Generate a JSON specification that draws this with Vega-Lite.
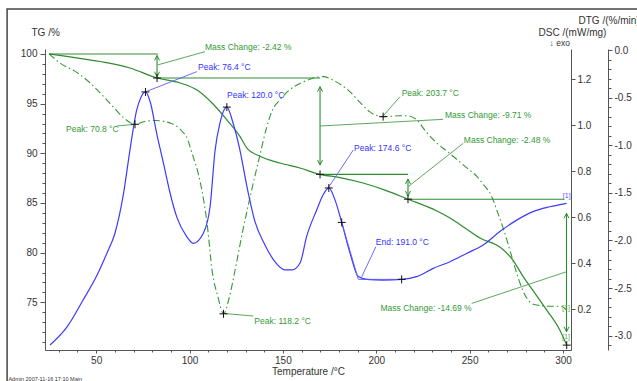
{
 "$schema": "https://vega.github.io/schema/vega-lite/v6.json",
 "width": 526, "height": 301,
 "autosize": {"type": "none"},
 "padding": {"left": 45, "top": 49, "right": 66, "bottom": 31},
 "background": "white",
 "config": {
  "view": {"stroke": null},
  "font": "Liberation Sans",
  "axis": {"domainColor": "#555", "tickColor": "#555", "labelColor": "#333", "titleColor": "#333", "labelFont": "Liberation Sans", "titleFont": "Liberation Sans", "titleFontWeight": "normal", "labelFontSize": 10, "titleFontSize": 10, "grid": false}
 },
 "datasets": {
  "frame": [{"t": 2.3, "t2": 400, "v": 104.53, "v2": 60}],
  "tg": [
   {"t": 24.8, "v": 100.0}, {"t": 36.0, "v": 99.70}, {"t": 52.1, "v": 99.24}, {"t": 68.1, "v": 98.59}, {"t": 82.6, "v": 97.58},
   {"t": 94.9, "v": 97.08}, {"t": 104.0, "v": 96.37}, {"t": 112.6, "v": 94.96}, {"t": 120.1, "v": 93.35}, {"t": 127.0, "v": 91.7},
   {"t": 130.8, "v": 90.5}, {"t": 137.7, "v": 89.7}, {"t": 148.4, "v": 89.02}, {"t": 159.1, "v": 88.52}, {"t": 169.9, "v": 87.88},
   {"t": 180.6, "v": 87.56}, {"t": 192.9, "v": 87.01}, {"t": 204.7, "v": 86.30}, {"t": 217.0, "v": 85.38}, {"t": 232.5, "v": 84.19},
   {"t": 239.5, "v": 83.48}, {"t": 247.5, "v": 82.48}, {"t": 255.5, "v": 81.47}, {"t": 266.2, "v": 80.56}, {"t": 273.2, "v": 79.25},
   {"t": 278.5, "v": 77.64}, {"t": 283.8, "v": 76.23}, {"t": 291.3, "v": 74.22}, {"t": 298.3, "v": 72.21}, {"t": 302.0, "v": 70.69}
  ],
  "dtg": [
   {"t": 24.8, "v": -0.04}, {"t": 30.9, "v": -0.14}, {"t": 40.0, "v": -0.24}, {"t": 47.0, "v": -0.35}, {"t": 54.0, "v": -0.49},
   {"t": 59.3, "v": -0.60}, {"t": 64.6, "v": -0.71}, {"t": 70.8, "v": -0.78}, {"t": 76.0, "v": -0.75}, {"t": 81.9, "v": -0.74},
   {"t": 90.0, "v": -0.77}, {"t": 95.4, "v": -0.84}, {"t": 99.2, "v": -0.95}, {"t": 100.8, "v": -1.05}, {"t": 106.4, "v": -1.45},
   {"t": 109.4, "v": -1.82}, {"t": 112.2, "v": -2.33}, {"t": 115.2, "v": -2.59}, {"t": 118.2, "v": -2.77}, {"t": 121.4, "v": -2.59},
   {"t": 124.4, "v": -2.31}, {"t": 128.6, "v": -1.89}, {"t": 133.3, "v": -1.47}, {"t": 137.5, "v": -1.12}, {"t": 141.2, "v": -0.82},
   {"t": 144.4, "v": -0.63}, {"t": 148.1, "v": -0.53}, {"t": 153.5, "v": -0.42}, {"t": 160.4, "v": -0.34}, {"t": 171.4, "v": -0.28},
   {"t": 179.0, "v": -0.34}, {"t": 186.0, "v": -0.44}, {"t": 191.3, "v": -0.55}, {"t": 196.6, "v": -0.65}, {"t": 203.7, "v": -0.70},
   {"t": 213.0, "v": -0.69}, {"t": 216.4, "v": -0.69}, {"t": 221.8, "v": -0.735}, {"t": 226.7, "v": -0.86}, {"t": 232.0, "v": -0.97},
   {"t": 239.0, "v": -1.08}, {"t": 248.0, "v": -1.23}, {"t": 254.0, "v": -1.33}, {"t": 257.7, "v": -1.42}, {"t": 261.4, "v": -1.52},
   {"t": 265.1, "v": -1.71}, {"t": 268.3, "v": -1.89}, {"t": 272.0, "v": -2.13}, {"t": 275.8, "v": -2.38}, {"t": 278.4, "v": -2.52},
   {"t": 281.1, "v": -2.62}, {"t": 284.3, "v": -2.67}, {"t": 291.8, "v": -2.69}, {"t": 298.7, "v": -2.69}, {"t": 302.0, "v": -2.73}
  ],
  "dsc": [
   {"t": 25.3, "v": 0.043}, {"t": 34.4, "v": 0.122}, {"t": 43.0, "v": 0.239}, {"t": 50.5, "v": 0.348}, {"t": 55.8, "v": 0.444},
   {"t": 60.1, "v": 0.531}, {"t": 64.6, "v": 0.70}, {"t": 68.1, "v": 0.892}, {"t": 71.7, "v": 1.066}, {"t": 73.9, "v": 1.12},
   {"t": 76.4, "v": 1.145}, {"t": 79.0, "v": 1.10}, {"t": 82.4, "v": 0.965}, {"t": 86.0, "v": 0.836}, {"t": 89.6, "v": 0.704},
   {"t": 93.1, "v": 0.602}, {"t": 98.5, "v": 0.515}, {"t": 102.0, "v": 0.486}, {"t": 107.4, "v": 0.530}, {"t": 111.0, "v": 0.645},
   {"t": 113.7, "v": 0.892}, {"t": 116.3, "v": 1.010}, {"t": 120.0, "v": 1.079}, {"t": 123.3, "v": 1.010}, {"t": 127.0, "v": 0.892},
   {"t": 130.8, "v": 0.731}, {"t": 135.1, "v": 0.579}, {"t": 140.4, "v": 0.479}, {"t": 145.8, "v": 0.405}, {"t": 151.1, "v": 0.370},
   {"t": 154.9, "v": 0.370}, {"t": 159.2, "v": 0.400}, {"t": 162.7, "v": 0.515}, {"t": 168.1, "v": 0.631}, {"t": 171.5, "v": 0.696},
   {"t": 174.6, "v": 0.727}, {"t": 177.9, "v": 0.675}, {"t": 181.5, "v": 0.577}, {"t": 186.0, "v": 0.442}, {"t": 190.4, "v": 0.341},
   {"t": 194.9, "v": 0.329}, {"t": 203.7, "v": 0.326}, {"t": 213.6, "v": 0.329}, {"t": 221.6, "v": 0.341}, {"t": 230.5, "v": 0.377},
   {"t": 239.5, "v": 0.406}, {"t": 248.4, "v": 0.442}, {"t": 257.3, "v": 0.479}, {"t": 266.2, "v": 0.537}, {"t": 275.2, "v": 0.587},
   {"t": 284.0, "v": 0.624}, {"t": 293.0, "v": 0.645}, {"t": 301.9, "v": 0.660}
  ],
  "tgSeg": [
   {"t": 24.8, "t2": 83.0, "v": 100.0, "v2": 100.0},
   {"t": 82.6, "t2": 169.9, "v": 97.58, "v2": 97.58},
   {"t": 169.9, "t2": 217.0, "v": 87.88, "v2": 87.88},
   {"t": 217.0, "t2": 300.5, "v": 85.38, "v2": 85.38},
   {"t": 82.6, "t2": 82.6, "v": 99.85, "v2": 97.71},
   {"t": 169.9, "t2": 169.9, "v": 96.71, "v2": 88.82},
   {"t": 217.0, "t2": 217.0, "v": 87.41, "v2": 85.70},
   {"t": 301.9, "t2": 301.9, "v": 83.96, "v2": 72.03}
  ],
  "greenLead": [
   {"t": 82.8, "t2": 108.3, "v": 98.89, "v2": 100.23},
   {"t": 169.9, "t2": 235.9, "v": 92.75, "v2": 93.42},
   {"t": 217.1, "t2": 246.6, "v": 86.64, "v2": 91.01},
   {"t": 301.9, "t2": 251.1, "v": 78.08, "v2": 74.89},
   {"t": 61.0, "t2": 70.4, "v": 92.75, "v2": 92.9},
   {"t": 117.8, "t2": 134.2, "v": 73.89, "v2": 73.62},
   {"t": 203.4, "t2": 212.7, "v": 93.69, "v2": 95.70}
  ],
  "blueLead": [
   {"t": 76.2, "t2": 103.9, "v": 96.17, "v2": 98.22},
   {"t": 174.3, "t2": 187.7, "v": 86.54, "v2": 90.33},
   {"t": 181.5, "t2": 190.4, "v": 83.05, "v2": 77.31},
   {"t": 190.4, "t2": 213.6, "v": 77.31, "v2": 77.31},
   {"t": 192.2, "t2": 199.8, "v": 77.57, "v2": 80.59}
  ],
  "arrUp": [{"t": 82.6, "v": 99.85}, {"t": 169.9, "v": 96.71}, {"t": 217.0, "v": 87.41}, {"t": 301.9, "v": 83.96}],
  "arrDown": [{"t": 82.6, "v": 97.71}, {"t": 169.9, "v": 88.82}, {"t": 217.0, "v": 85.70}, {"t": 301.9, "v": 72.03}],
  "tgCross": [{"t": 82.6, "v": 97.58}, {"t": 169.9, "v": 87.88}, {"t": 217.0, "v": 85.38}, {"t": 302.0, "v": 70.69}],
  "dtgCross": [{"t": 70.8, "v": -0.78}, {"t": 118.2, "v": -2.77}, {"t": 203.7, "v": -0.70}],
  "dscCross": [{"t": 76.4, "v": 1.145}, {"t": 120.0, "v": 1.079}, {"t": 174.6, "v": 0.727}, {"t": 181.5, "v": 0.577}, {"t": 213.6, "v": 0.329}],
  "greenText": [
   {"t": 108.3, "v": 100.74, "label": "Mass Change: -2.42 %"},
   {"t": 236.8, "v": 93.86, "label": "Mass Change: -9.71 %"},
   {"t": 246.9, "v": 91.34, "label": "Mass Change: -2.48 %"},
   {"t": 213.6, "v": 96.04, "label": "Peak: 203.7 °C"},
   {"t": 134.7, "v": 73.14, "label": "Peak: 118.2 °C"},
   {"t": 33.9, "v": 92.42, "label": "Peak: 70.8 °C"}
  ],
  "greenRight": [{"t": 251.1, "v": 74.39, "label": "Mass Change: -14.69 %"}],
  "blueText": [
   {"t": 104.6, "v": 98.72, "label": "Peak: 76.4 °C"},
   {"t": 120.1, "v": 95.87, "label": "Peak: 120.0 °C"},
   {"t": 188.1, "v": 90.53, "label": "Peak: 174.6 °C"},
   {"t": 199.8, "v": 81.10, "label": "End: 191.0 °C"}
  ],
  "blueTag": [{"t": 302.0, "v": 85.70, "label": "[1]"}],
  "greenTag": [{"t": 301.6, "v": 74.47, "label": "[1]"}, {"t": 301.6, "v": 71.50, "label": "[1]"}],
  "exo": [{"t": 303.7, "v": 101.14, "label": "↓ exo"}],
  "footer": [{"t": 3.0, "v": 67.32, "label": "Admin   2007-11-16 17:10    Main"}]
 },
 "resolve": {"scale": {"y": "independent"}, "axis": {"x": "independent", "y": "independent"}},
 "layer": [
  {
   "data": {"name": "frame"},
   "mark": {"type": "rect", "filled": false, "color": "#444", "strokeWidth": 1.5},
   "encoding": {
    "x": {"field": "t", "type": "quantitative", "scale": {"domain": [22.6, 304.3], "nice": false, "zero": false}, "axis": null},
    "x2": {"field": "t2"},
    "y": {"field": "v", "type": "quantitative", "scale": {"domain": [70.2, 100.5], "nice": false, "zero": false}, "axis": null},
    "y2": {"field": "v2"}
   }
  },
  {
   "data": {"name": "tg"},
   "mark": {"type": "point", "opacity": 0},
   "encoding": {
    "x": {"field": "t", "type": "quantitative", "scale": {"domain": [22.6, 304.3], "nice": false, "zero": false},
          "axis": {"orient": "bottom", "values": [30, 40, 60, 70, 80, 90, 110, 120, 130, 140, 160, 170, 180, 190, 210, 220, 230, 240, 260, 270, 280, 290], "labels": false, "domain": false, "tickSize": 2, "title": null}},
    "y": {"field": "v", "type": "quantitative", "scale": {"domain": [70.2, 100.5], "nice": false, "zero": false},
          "axis": {"orient": "left", "values": [71, 72, 73, 74, 76, 77, 78, 79, 81, 82, 83, 84, 86, 87, 88, 89, 91, 92, 93, 94, 96, 97, 98, 99], "labels": false, "domain": false, "tickSize": 3, "title": null}}
   }
  },
  {
   "data": {"name": "dtg"},
   "mark": {"type": "point", "opacity": 0},
   "encoding": {
    "x": {"field": "t", "type": "quantitative", "scale": {"domain": [22.6, 304.3], "nice": false, "zero": false}, "axis": null},
    "y": {"field": "v", "type": "quantitative", "scale": {"domain": [-3.15, 0.0105], "nice": false, "zero": false},
          "axis": {"orient": "right", "offset": 37, "values": [-0.1, -0.2, -0.3, -0.4, -0.6, -0.7, -0.8, -0.9, -1.1, -1.2, -1.3, -1.4, -1.6, -1.7, -1.8, -1.9, -2.1, -2.2, -2.3, -2.4, -2.6, -2.7, -2.8, -2.9, -3.1], "labels": false, "domain": false, "tickSize": 3, "title": null}}
   }
  },
  {
   "data": {"name": "dtg"},
   "mark": {"type": "line", "color": "#339933", "strokeWidth": 1.1, "strokeDash": [7, 3, 1.5, 3], "interpolate": "monotone"},
   "encoding": {
    "x": {"field": "t", "type": "quantitative", "scale": {"domain": [22.6, 304.3], "nice": false, "zero": false}, "axis": null},
    "y": {"field": "v", "type": "quantitative", "scale": {"domain": [-3.15, 0.0105], "nice": false, "zero": false},
          "axis": {"orient": "right", "offset": 37, "values": [0, -0.5, -1, -1.5, -2, -2.5, -3], "labelExpr": "datum.value < 0 ? '-' + format(-datum.value, '.1f') : format(datum.value, '.1f')", "tickSize": 4, "labelPadding": 2, "title": "DTG /(%/min)", "titleAngle": 0, "titleAlign": "left", "titleBaseline": "middle", "titleX": -30, "titleY": -29}}
   }
  },
  {
   "data": {"name": "tg"},
   "mark": {"type": "line", "color": "#2e8b2e", "strokeWidth": 1.2, "interpolate": "monotone"},
   "encoding": {
    "x": {"field": "t", "type": "quantitative", "scale": {"domain": [22.6, 304.3], "nice": false, "zero": false},
          "axis": {"orient": "bottom", "values": [50, 100, 150, 200, 250, 300], "tickSize": 3, "labelPadding": 2, "title": "Temperature /°C", "titlePadding": 1}},
    "y": {"field": "v", "type": "quantitative", "scale": {"domain": [70.2, 100.5], "nice": false, "zero": false},
          "axis": {"orient": "left", "values": [75, 80, 85, 90, 95, 100], "tickSize": 5, "labelPadding": 3, "title": "TG /%", "titleAngle": 0, "titleAlign": "left", "titleBaseline": "middle", "titleX": -14, "titleY": -17}}
   }
  },
  {
   "data": {"name": "dsc"},
   "mark": {"type": "line", "color": "#3b3bff", "strokeWidth": 1.2, "interpolate": "monotone"},
   "encoding": {
    "x": {"field": "t", "type": "quantitative", "scale": {"domain": [22.6, 304.3], "nice": false, "zero": false}, "axis": null},
    "y": {"field": "v", "type": "quantitative", "scale": {"domain": [0.0215, 1.332], "nice": false, "zero": false},
          "axis": {"orient": "right", "values": [0.2, 0.4, 0.6, 0.8, 1.0, 1.2], "format": ".1f", "tickSize": 4, "labelPadding": 2, "title": "DSC /(mW/mg)", "titleAngle": 0, "titleAlign": "center", "titleBaseline": "middle", "titleX": 1, "titleY": -17}}
   }
  },
  {
   "data": {"name": "tgSeg"},
   "mark": {"type": "rule", "color": "#2e8b2e", "strokeWidth": 1.1},
   "encoding": {
    "x": {"field": "t", "type": "quantitative", "scale": {"domain": [22.6, 304.3], "nice": false, "zero": false}, "axis": null},
    "x2": {"field": "t2"},
    "y": {"field": "v", "type": "quantitative", "scale": {"domain": [70.2, 100.5], "nice": false, "zero": false}, "axis": null},
    "y2": {"field": "v2"}
   }
  },
  {
   "data": {"name": "greenLead"},
   "mark": {"type": "rule", "color": "#4a9e4a", "strokeWidth": 0.9},
   "encoding": {
    "x": {"field": "t", "type": "quantitative", "scale": {"domain": [22.6, 304.3], "nice": false, "zero": false}, "axis": null},
    "x2": {"field": "t2"},
    "y": {"field": "v", "type": "quantitative", "scale": {"domain": [70.2, 100.5], "nice": false, "zero": false}, "axis": null},
    "y2": {"field": "v2"}
   }
  },
  {
   "data": {"name": "blueLead"},
   "mark": {"type": "rule", "color": "#5a5aff", "strokeWidth": 0.9},
   "encoding": {
    "x": {"field": "t", "type": "quantitative", "scale": {"domain": [22.6, 304.3], "nice": false, "zero": false}, "axis": null},
    "x2": {"field": "t2"},
    "y": {"field": "v", "type": "quantitative", "scale": {"domain": [70.2, 100.5], "nice": false, "zero": false}, "axis": null},
    "y2": {"field": "v2"}
   }
  },
  {
   "data": {"name": "arrUp"},
   "mark": {"type": "point", "shape": "M-0.5,1L0,0L0.5,1", "size": 100, "filled": false, "color": "#2e8b2e", "strokeWidth": 1, "opacity": 1},
   "encoding": {
    "x": {"field": "t", "type": "quantitative", "scale": {"domain": [22.6, 304.3], "nice": false, "zero": false}, "axis": null},
    "y": {"field": "v", "type": "quantitative", "scale": {"domain": [70.2, 100.5], "nice": false, "zero": false}, "axis": null}
   }
  },
  {
   "data": {"name": "arrDown"},
   "mark": {"type": "point", "shape": "M-0.5,-1L0,0L0.5,-1", "size": 100, "filled": false, "color": "#2e8b2e", "strokeWidth": 1, "opacity": 1},
   "encoding": {
    "x": {"field": "t", "type": "quantitative", "scale": {"domain": [22.6, 304.3], "nice": false, "zero": false}, "axis": null},
    "y": {"field": "v", "type": "quantitative", "scale": {"domain": [70.2, 100.5], "nice": false, "zero": false}, "axis": null}
   }
  },
  {
   "data": {"name": "tgCross"},
   "mark": {"type": "point", "shape": "M-1,0L1,0M0,-1L0,1", "size": 64, "filled": false, "color": "#111", "strokeWidth": 1, "opacity": 1},
   "encoding": {
    "x": {"field": "t", "type": "quantitative", "scale": {"domain": [22.6, 304.3], "nice": false, "zero": false}, "axis": null},
    "y": {"field": "v", "type": "quantitative", "scale": {"domain": [70.2, 100.5], "nice": false, "zero": false}, "axis": null}
   }
  },
  {
   "data": {"name": "dtgCross"},
   "mark": {"type": "point", "shape": "M-1,0L1,0M0,-1L0,1", "size": 64, "filled": false, "color": "#111", "strokeWidth": 1, "opacity": 1},
   "encoding": {
    "x": {"field": "t", "type": "quantitative", "scale": {"domain": [22.6, 304.3], "nice": false, "zero": false}, "axis": null},
    "y": {"field": "v", "type": "quantitative", "scale": {"domain": [-3.15, 0.0105], "nice": false, "zero": false}, "axis": null}
   }
  },
  {
   "data": {"name": "dscCross"},
   "mark": {"type": "point", "shape": "M-1,0L1,0M0,-1L0,1", "size": 64, "filled": false, "color": "#111", "strokeWidth": 1, "opacity": 1},
   "encoding": {
    "x": {"field": "t", "type": "quantitative", "scale": {"domain": [22.6, 304.3], "nice": false, "zero": false}, "axis": null},
    "y": {"field": "v", "type": "quantitative", "scale": {"domain": [0.0215, 1.332], "nice": false, "zero": false}, "axis": null}
   }
  },
  {
   "data": {"name": "greenText"},
   "mark": {"type": "text", "align": "left", "baseline": "middle", "fontSize": 8.5, "color": "#339933"},
   "encoding": {
    "x": {"field": "t", "type": "quantitative", "scale": {"domain": [22.6, 304.3], "nice": false, "zero": false}, "axis": null},
    "y": {"field": "v", "type": "quantitative", "scale": {"domain": [70.2, 100.5], "nice": false, "zero": false}, "axis": null},
    "text": {"field": "label"}
   }
  },
  {
   "data": {"name": "greenRight"},
   "mark": {"type": "text", "align": "right", "baseline": "middle", "fontSize": 8.5, "color": "#339933"},
   "encoding": {
    "x": {"field": "t", "type": "quantitative", "scale": {"domain": [22.6, 304.3], "nice": false, "zero": false}, "axis": null},
    "y": {"field": "v", "type": "quantitative", "scale": {"domain": [70.2, 100.5], "nice": false, "zero": false}, "axis": null},
    "text": {"field": "label"}
   }
  },
  {
   "data": {"name": "blueText"},
   "mark": {"type": "text", "align": "left", "baseline": "middle", "fontSize": 8.5, "color": "#3333ff"},
   "encoding": {
    "x": {"field": "t", "type": "quantitative", "scale": {"domain": [22.6, 304.3], "nice": false, "zero": false}, "axis": null},
    "y": {"field": "v", "type": "quantitative", "scale": {"domain": [70.2, 100.5], "nice": false, "zero": false}, "axis": null},
    "text": {"field": "label"}
   }
  },
  {
   "data": {"name": "blueTag"},
   "mark": {"type": "text", "align": "center", "baseline": "middle", "fontSize": 7, "color": "#5555ff"},
   "encoding": {
    "x": {"field": "t", "type": "quantitative", "scale": {"domain": [22.6, 304.3], "nice": false, "zero": false}, "axis": null},
    "y": {"field": "v", "type": "quantitative", "scale": {"domain": [70.2, 100.5], "nice": false, "zero": false}, "axis": null},
    "text": {"field": "label"}
   }
  },
  {
   "data": {"name": "greenTag"},
   "mark": {"type": "text", "align": "center", "baseline": "middle", "fontSize": 7, "color": "#55aa55"},
   "encoding": {
    "x": {"field": "t", "type": "quantitative", "scale": {"domain": [22.6, 304.3], "nice": false, "zero": false}, "axis": null},
    "y": {"field": "v", "type": "quantitative", "scale": {"domain": [70.2, 100.5], "nice": false, "zero": false}, "axis": null},
    "text": {"field": "label"}
   }
  },
  {
   "data": {"name": "exo"},
   "mark": {"type": "text", "align": "right", "baseline": "middle", "fontSize": 8.5, "color": "#333"},
   "encoding": {
    "x": {"field": "t", "type": "quantitative", "scale": {"domain": [22.6, 304.3], "nice": false, "zero": false}, "axis": null},
    "y": {"field": "v", "type": "quantitative", "scale": {"domain": [70.2, 100.5], "nice": false, "zero": false}, "axis": null},
    "text": {"field": "label"}
   }
  },
  {
   "data": {"name": "footer"},
   "mark": {"type": "text", "align": "left", "baseline": "middle", "fontSize": 5.5, "color": "#333"},
   "encoding": {
    "x": {"field": "t", "type": "quantitative", "scale": {"domain": [22.6, 304.3], "nice": false, "zero": false}, "axis": null},
    "y": {"field": "v", "type": "quantitative", "scale": {"domain": [70.2, 100.5], "nice": false, "zero": false}, "axis": null},
    "text": {"field": "label"}
   }
  }
 ]
}
